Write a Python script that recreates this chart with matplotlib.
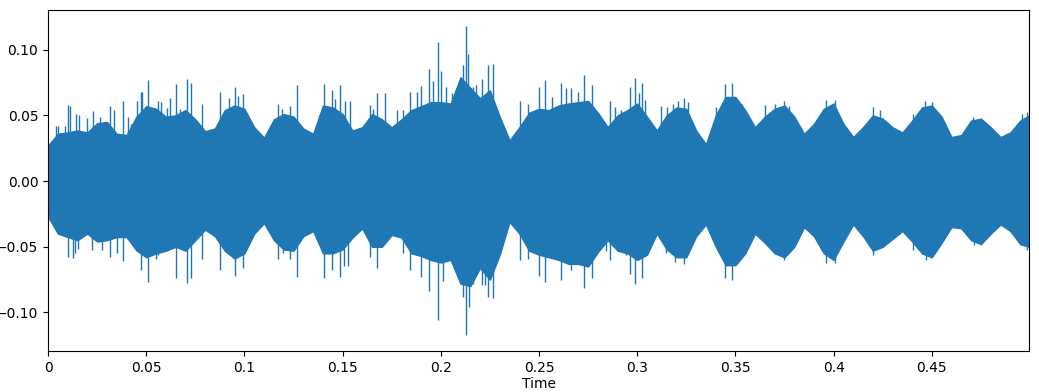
import numpy as np
import matplotlib.pyplot as plt

# envelope of the waveform, read every 5 ms
t_env = [0.000, 0.005, 0.010, 0.015, 0.020, 0.025, 0.030, 0.035, 0.040, 0.045,
         0.050, 0.055, 0.060, 0.065, 0.070, 0.075, 0.080, 0.085, 0.090, 0.095,
         0.100, 0.105, 0.110, 0.115, 0.120, 0.125, 0.130, 0.135, 0.140, 0.145,
         0.150, 0.155, 0.160, 0.165, 0.170, 0.175, 0.180, 0.185, 0.190, 0.195,
         0.200, 0.205, 0.210, 0.215, 0.220, 0.225, 0.230, 0.235, 0.240, 0.245,
         0.250, 0.255, 0.260, 0.265, 0.270, 0.275, 0.280, 0.285, 0.290, 0.295,
         0.300, 0.305, 0.310, 0.315, 0.320, 0.325, 0.330, 0.335, 0.340, 0.345,
         0.350, 0.355, 0.360, 0.365, 0.370, 0.375, 0.380, 0.385, 0.390, 0.395,
         0.400, 0.405, 0.410, 0.415, 0.420, 0.425, 0.430, 0.435, 0.440, 0.445,
         0.450, 0.455, 0.460, 0.465, 0.470, 0.475, 0.480, 0.485, 0.490, 0.495,
         0.4995]
env_top = [0.027, 0.036, 0.037, 0.0385, 0.037, 0.044, 0.045, 0.036, 0.035, 0.049,
           0.057, 0.055, 0.049, 0.050, 0.054, 0.047, 0.038, 0.040, 0.054, 0.0575,
           0.055, 0.041, 0.033, 0.047, 0.051, 0.049, 0.040, 0.036, 0.0575, 0.056,
           0.051, 0.0385, 0.041, 0.051, 0.047, 0.041, 0.047, 0.054, 0.057, 0.060,
           0.060, 0.059, 0.079, 0.071, 0.063, 0.069, 0.049, 0.031, 0.041, 0.052,
           0.055, 0.054, 0.0575, 0.059, 0.060, 0.061, 0.052, 0.041, 0.050, 0.054,
           0.059, 0.049, 0.0385, 0.050, 0.056, 0.055, 0.0385, 0.028, 0.050, 0.064,
           0.064, 0.054, 0.041, 0.049, 0.055, 0.0575, 0.049, 0.036, 0.0436, 0.055,
           0.059, 0.0436, 0.0335, 0.041, 0.050, 0.0475, 0.041, 0.037, 0.046, 0.056,
           0.0575, 0.049, 0.0335, 0.035, 0.046, 0.0475, 0.041, 0.0335, 0.037, 0.046,
           0.050]
env_bottom = [-0.027, -0.040, -0.0426, -0.045, -0.040, -0.046, -0.045, -0.0426, -0.0426, -0.0527,
              -0.058, -0.055, -0.053, -0.050, -0.053, -0.045, -0.037, -0.042, -0.053, -0.059,
              -0.055, -0.040, -0.032, -0.045, -0.052, -0.053, -0.042, -0.038, -0.055, -0.055,
              -0.052, -0.043, -0.036, -0.050, -0.050, -0.041, -0.043, -0.055, -0.057, -0.060,
              -0.062, -0.060, -0.078, -0.080, -0.066, -0.075, -0.056, -0.031, -0.040, -0.053,
              -0.056, -0.058, -0.060, -0.063, -0.063, -0.065, -0.054, -0.045, -0.053, -0.055,
              -0.060, -0.056, -0.040, -0.052, -0.058, -0.058, -0.042, -0.033, -0.050, -0.064,
              -0.064, -0.055, -0.040, -0.047, -0.055, -0.058, -0.050, -0.035, -0.042, -0.055,
              -0.060, -0.046, -0.033, -0.042, -0.053, -0.050, -0.044, -0.038, -0.046, -0.055,
              -0.058, -0.047, -0.035, -0.036, -0.045, -0.048, -0.040, -0.033, -0.038, -0.048,
              -0.050]

# isolated peaks sticking out of the envelope
t_peak_top = [0.0039, 0.0053, 0.0085, 0.0100, 0.0110, 0.0145, 0.0158, 0.0199, 0.0227, 0.0263,
              0.0316, 0.0338, 0.0382, 0.0408, 0.0425, 0.0452, 0.0472, 0.0481, 0.0508, 0.0523,
              0.0562, 0.0575, 0.0605, 0.0622, 0.0651, 0.0673, 0.0707, 0.0726, 0.0784, 0.0877,
              0.0923, 0.0952, 0.0969, 0.0994, 0.1169, 0.1191, 0.1232, 0.1266, 0.1378, 0.1403,
              0.1446, 0.1463, 0.1487, 0.1514, 0.1538, 0.1640, 0.1654, 0.1674, 0.1718, 0.1776,
              0.1809, 0.1844, 0.1877, 0.1900, 0.1942, 0.1959, 0.1985, 0.2001, 0.2027, 0.2058,
              0.2078, 0.2112, 0.2126, 0.2137, 0.2163, 0.2180, 0.2209, 0.2240, 0.2265, 0.2404,
              0.2443, 0.2500, 0.2530, 0.2567, 0.2610, 0.2638, 0.2664, 0.2698, 0.2729, 0.2771,
              0.2860, 0.2885, 0.2919, 0.2962, 0.2989, 0.3009, 0.3026, 0.3038, 0.3123, 0.3151,
              0.3182, 0.3207, 0.3239, 0.3259, 0.3403, 0.3445, 0.3485, 0.3536, 0.3561, 0.3650,
              0.3701, 0.3748, 0.3774, 0.3959, 0.4006, 0.4202, 0.4236, 0.4406, 0.4465, 0.4499,
              0.4711, 0.4958, 0.4983]
peak_top = [0.0416, 0.0416, 0.0416, 0.058, 0.0575, 0.051, 0.0504, 0.0479, 0.053, 0.0487,
            0.0575, 0.054, 0.061, 0.0487, 0.0436, 0.0606, 0.068, 0.0677, 0.077, 0.0558,
            0.0606, 0.060, 0.0558, 0.063, 0.074, 0.055, 0.0773, 0.075, 0.059, 0.068,
            0.063, 0.0715, 0.065, 0.066, 0.059, 0.055, 0.0575, 0.073, 0.050, 0.074,
            0.069, 0.0626, 0.073, 0.061, 0.061, 0.058, 0.055, 0.067, 0.067, 0.054,
            0.054, 0.068, 0.068, 0.072, 0.085, 0.076, 0.106, 0.084, 0.0715, 0.067,
            0.066, 0.088, 0.118, 0.097, 0.0715, 0.073, 0.078, 0.088, 0.089, 0.061,
            0.059, 0.0715, 0.0766, 0.064, 0.075, 0.0707, 0.0707, 0.068, 0.081, 0.073,
            0.061, 0.056, 0.054, 0.0715, 0.0786, 0.067, 0.075, 0.062, 0.0575, 0.056,
            0.059, 0.061, 0.063, 0.060, 0.056, 0.074, 0.075, 0.059, 0.050, 0.058,
            0.059, 0.0606, 0.0575, 0.062, 0.062, 0.056, 0.054, 0.051, 0.0606, 0.060,
            0.049, 0.051, 0.0525]
t_peak_bottom = [0.0100, 0.0125, 0.0140, 0.0153, 0.0226, 0.0274, 0.0316, 0.0353, 0.0382, 0.0472,
                 0.0508, 0.0549, 0.0562, 0.0651, 0.0707, 0.0726, 0.0784, 0.0877, 0.0952, 0.0994,
                 0.1169, 0.1195, 0.1232, 0.1266, 0.1403, 0.1446, 0.1487, 0.1509, 0.1530, 0.1640,
                 0.1674, 0.1809, 0.1844, 0.1900, 0.1942, 0.1985, 0.2010, 0.2112, 0.2126, 0.2145,
                 0.2163, 0.2209, 0.2223, 0.2240, 0.2265, 0.2404, 0.2443, 0.2500, 0.2530, 0.2610,
                 0.2664, 0.2729, 0.2771, 0.2843, 0.2860, 0.2941, 0.2962, 0.2989, 0.3026, 0.3145,
                 0.3191, 0.3239, 0.3445, 0.3485, 0.3748, 0.3959, 0.4006, 0.4202, 0.4406, 0.4470,
                 0.4714, 0.4983]
peak_bottom = [-0.058, -0.0586, -0.055, -0.0515, -0.0527, -0.0527, -0.058, -0.055, -0.061, -0.068,
               -0.077, -0.059, -0.0565, -0.074, -0.0776, -0.074, -0.059, -0.068, -0.072, -0.066,
               -0.059, -0.055, -0.059, -0.073, -0.074, -0.068, -0.073, -0.065, -0.065, -0.058,
               -0.066, -0.055, -0.068, -0.073, -0.084, -0.106, -0.076, -0.088, -0.117, -0.096,
               -0.078, -0.079, -0.079, -0.088, -0.089, -0.060, -0.059, -0.072, -0.077, -0.075,
               -0.068, -0.081, -0.074, -0.053, -0.060, -0.0565, -0.071, -0.078, -0.074, -0.055,
               -0.0616, -0.063, -0.074, -0.075, -0.060, -0.062, -0.062, -0.056, -0.0527, -0.060,
               -0.049, -0.0527]

x_ticks = [0, 0.05, 0.1, 0.15, 0.2, 0.25, 0.3, 0.35, 0.4, 0.45]
x_labels = ['0', '0.05', '0.1', '0.15', '0.2', '0.25', '0.3', '0.35', '0.4', '0.45']

color = '#1f77b4'

fig = plt.figure(figsize=(10.39, 3.92), dpi=100)
ax = fig.add_axes([0.0462, 0.1046, 0.9442, 0.87])

ax.fill_between(t_env, env_bottom, env_top, color=color, linewidth=1)
ax.vlines(t_peak_top, 0, peak_top, color=color, linewidth=1)
ax.vlines(t_peak_bottom, peak_bottom, 0, color=color, linewidth=1)

ax.set_xlim(0, 0.4995)
ax.set_ylim(-0.1293, 0.1302)
ax.set_xticks(x_ticks)
ax.set_xticklabels(x_labels)
ax.set_yticks([-0.10, -0.05, 0.0, 0.05, 0.10])
ax.set_yticklabels(['\u22120.10', '\u22120.05', '0.00', '0.05', '0.10'])
ax.set_xlabel('Time', labelpad=1.5)

fig.savefig('out.png', dpi=100)
